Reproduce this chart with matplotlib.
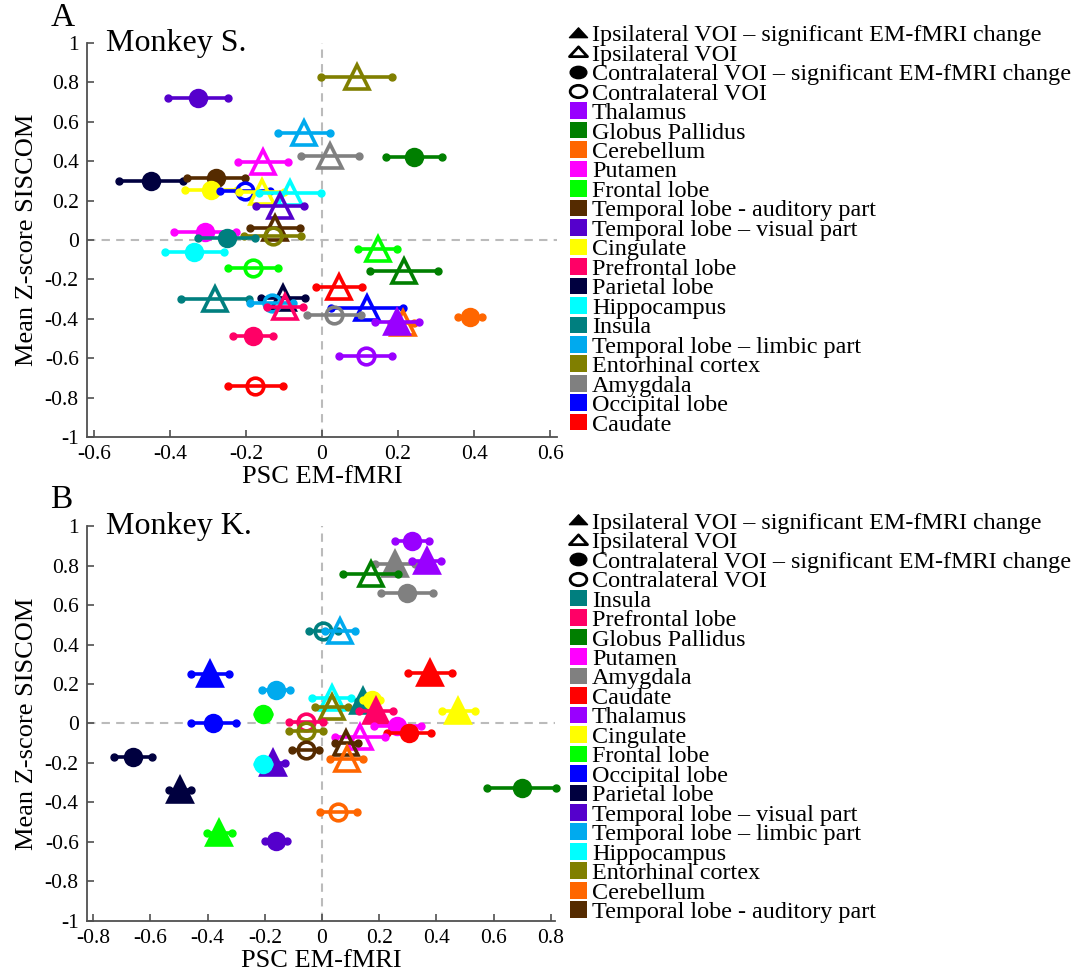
import matplotlib
matplotlib.use('Agg')
import matplotlib.pyplot as plt
import numpy as np
from matplotlib.lines import Line2D
from matplotlib.patches import Patch
from matplotlib.path import Path
from matplotlib.transforms import Affine2D

plt.rcParams['font.family'] = ['Liberation Serif', 'DejaVu Serif']
plt.rcParams['axes.unicode_minus'] = False

# ---- Monkey S. ----
a_region = ['Temporal lobe – visual part', 'Entorhinal cortex', 'Temporal lobe – limbic part', 'Amygdala',
            'Globus Pallidus', 'Putamen', 'Parietal lobe', 'Temporal lobe - auditory part', 'Cingulate',
            'Occipital lobe', 'Cingulate', 'Hippocampus', 'Temporal lobe – visual part',
            'Temporal lobe - auditory part', 'Entorhinal cortex', 'Putamen', 'Insula', 'Hippocampus',
            'Frontal lobe', 'Frontal lobe', 'Globus Pallidus', 'Caudate', 'Insula', 'Parietal lobe',
            'Temporal lobe – limbic part', 'Prefrontal lobe', 'Occipital lobe', 'Amygdala', 'Cerebellum',
            'Thalamus', 'Cerebellum', 'Prefrontal lobe', 'Thalamus', 'Caudate']
a_x = [-0.326, 0.091, -0.047, 0.021, 0.242, -0.156, -0.450, -0.279, -0.292, -0.203, -0.159, -0.084,
       -0.110, -0.124, -0.130, -0.308, -0.251, -0.336, -0.182, 0.146, 0.216, 0.045, -0.282, -0.103,
       -0.132, -0.097, 0.119, 0.032, 0.212, 0.197, 0.389, -0.181, 0.115, -0.175]
a_y = [0.719, 0.829, 0.542, 0.426, 0.420, 0.397, 0.300, 0.316, 0.254, 0.250, 0.245, 0.237,
       0.174, 0.062, 0.022, 0.042, 0.009, -0.059, -0.144, -0.046, -0.156, -0.237, -0.301, -0.296,
       -0.318, -0.338, -0.344, -0.380, -0.420, -0.415, -0.392, -0.487, -0.587, -0.739]
a_err = [0.080, 0.094, 0.069, 0.077, 0.074, 0.066, 0.085, 0.076, 0.068, 0.066, 0.060, 0.082,
         0.063, 0.066, 0.074, 0.081, 0.075, 0.078, 0.066, 0.052, 0.090, 0.060, 0.090, 0.057,
         0.057, 0.047, 0.095, 0.071, 0.030, 0.057, 0.032, 0.053, 0.070, 0.073]
a_side = ['contra', 'ipsi', 'ipsi', 'ipsi', 'contra', 'ipsi', 'contra', 'contra', 'contra', 'contra',
          'ipsi', 'ipsi', 'ipsi', 'ipsi', 'contra', 'contra', 'contra', 'contra', 'contra', 'ipsi',
          'ipsi', 'ipsi', 'ipsi', 'ipsi', 'contra', 'ipsi', 'ipsi', 'contra', 'ipsi', 'ipsi',
          'contra', 'contra', 'contra', 'contra']
a_sig = [1, 0, 0, 0, 1, 0, 1, 1, 1, 0, 0, 0, 0, 0, 0, 1, 1, 1, 0, 0,
         0, 0, 0, 0, 0, 0, 0, 0, 0, 1, 1, 1, 0, 0]
a_legend = ['Thalamus', 'Globus Pallidus', 'Cerebellum', 'Putamen', 'Frontal lobe',
            'Temporal lobe - auditory part', 'Temporal lobe – visual part', 'Cingulate', 'Prefrontal lobe',
            'Parietal lobe', 'Hippocampus', 'Insula', 'Temporal lobe – limbic part', 'Entorhinal cortex',
            'Amygdala', 'Occipital lobe', 'Caudate']

# ---- Monkey K. ----
b_region = ['Thalamus', 'Amygdala', 'Thalamus', 'Globus Pallidus', 'Amygdala', 'Insula',
            'Temporal lobe – limbic part', 'Occipital lobe', 'Caudate', 'Temporal lobe – limbic part',
            'Hippocampus', 'Entorhinal cortex', 'Insula', 'Cingulate', 'Prefrontal lobe', 'Cingulate',
            'Frontal lobe', 'Occipital lobe', 'Prefrontal lobe', 'Entorhinal cortex',
            'Temporal lobe - auditory part', 'Putamen', 'Caudate', 'Putamen', 'Temporal lobe - auditory part',
            'Cerebellum', 'Temporal lobe – visual part', 'Hippocampus', 'Parietal lobe', 'Parietal lobe',
            'Frontal lobe', 'Temporal lobe – visual part', 'Cerebellum', 'Globus Pallidus']
b_x = [0.314, 0.255, 0.366, 0.170, 0.298, 0.005, 0.063, -0.392, 0.378, -0.161, 0.034, 0.034,
       0.145, 0.174, 0.189, 0.477, -0.207, -0.380, -0.057, -0.057, -0.057, 0.263, 0.305, 0.133,
       0.085, 0.086, -0.170, -0.207, -0.660, -0.497, -0.359, -0.161, 0.057, 0.698]
b_y = [0.925, 0.810, 0.824, 0.756, 0.661, 0.469, 0.469, 0.252, 0.257, 0.171, 0.128, 0.083,
       0.113, 0.117, 0.062, 0.061, 0.046, 0.000, 0.007, -0.039, -0.134, -0.015, -0.049, -0.070,
       -0.100, -0.179, -0.200, -0.205, -0.171, -0.337, -0.552, -0.597, -0.447, -0.327]
b_err = [0.060, 0.070, 0.050, 0.096, 0.092, 0.050, 0.054, 0.067, 0.077, 0.048, 0.068, 0.057,
         0.020, 0.030, 0.061, 0.058, 0.020, 0.078, 0.060, 0.060, 0.047, 0.082, 0.077, 0.088,
         0.040, 0.057, 0.040, 0.020, 0.067, 0.038, 0.044, 0.039, 0.064, 0.122]
b_side = ['contra', 'ipsi', 'ipsi', 'ipsi', 'contra', 'contra', 'ipsi', 'ipsi', 'ipsi', 'contra',
          'ipsi', 'ipsi', 'ipsi', 'contra', 'ipsi', 'ipsi', 'contra', 'contra', 'contra', 'contra',
          'contra', 'contra', 'contra', 'ipsi', 'ipsi', 'ipsi', 'ipsi', 'contra', 'contra', 'ipsi',
          'ipsi', 'contra', 'contra', 'contra']
b_sig = [1, 1, 1, 0, 1, 0, 0, 1, 1, 1, 0, 0, 1, 1, 1, 1, 1, 1, 0, 0,
         0, 1, 1, 0, 0, 0, 1, 1, 1, 1, 1, 1, 0, 1]
b_legend = ['Insula', 'Prefrontal lobe', 'Globus Pallidus', 'Putamen', 'Amygdala', 'Caudate', 'Thalamus',
            'Cingulate', 'Frontal lobe', 'Occipital lobe', 'Parietal lobe', 'Temporal lobe – visual part',
            'Temporal lobe – limbic part', 'Hippocampus', 'Entorhinal cortex', 'Cerebellum',
            'Temporal lobe - auditory part']

colors = {
    'Thalamus': '#9900ff', 'Globus Pallidus': '#007f00', 'Cerebellum': '#ff6600', 'Putamen': '#ff00ff',
    'Frontal lobe': '#00ff00', 'Temporal lobe - auditory part': '#552b00',
    'Temporal lobe – visual part': '#5500cc', 'Cingulate': '#ffff00', 'Prefrontal lobe': '#ff0066',
    'Parietal lobe': '#00003f', 'Hippocampus': '#00ffff', 'Insula': '#007f7f',
    'Temporal lobe – limbic part': '#00aaee', 'Entorhinal cortex': '#807f00', 'Amygdala': '#808080',
    'Occipital lobe': '#0000ff', 'Caudate': '#ff0000',
}

ellipse = Path.unit_circle().transformed(Affine2D().scale(1.35, 1.0))
flat_tri = Path([(-1.2, -0.55), (1.2, -0.55), (0, 0.75), (-1.2, -0.55)],
                [Path.MOVETO, Path.LINETO, Path.LINETO, Path.CLOSEPOLY])


def draw_panel(ax, region, x, y, err, side, sig):
    for i, (r, xi, yi, ei, s, g) in enumerate(zip(region, x, y, err, side, sig)):
        c = colors[r]
        z = 2 + i * 0.01
        ax.plot([xi - ei, xi + ei], [yi, yi], '-', color=c, lw=2.6, zorder=z,
                solid_capstyle='butt', clip_on=False)
        ax.plot([xi - ei, xi + ei], [yi, yi], 'o', color=c, ms=5, zorder=z, clip_on=False)
        if s == 'ipsi':
            ax.plot(xi, yi, marker='^', ms=17.5, mfc=c if g else 'none', mec=c, mew=2.6,
                    ls='none', zorder=z, clip_on=False)
        else:
            ax.plot(xi, yi, marker='o', ms=14 if g else 12, mfc=c if g else 'none', mec=c,
                    mew=0 if g else 2.6, ls='none', zorder=z, clip_on=False)


def style_axes(ax, xlim, xticks):
    ax.set_xlim(xlim)
    ax.set_ylim(-1.0, 1.0)
    ax.set_xticks(xticks)
    ax.set_xticklabels(['%g' % (round(t, 1) + 0.0) for t in xticks])
    yt = np.round(np.arange(-1, 1.01, 0.2), 1) + 0.0
    ax.set_yticks(yt)
    ax.set_yticklabels(['%g' % t for t in yt])
    for sp in ['top', 'right']:
        ax.spines[sp].set_visible(False)
    for sp in ['left', 'bottom']:
        ax.spines[sp].set_color('#505050')
        ax.spines[sp].set_linewidth(1.3)
    ax.tick_params(direction='in', length=5, width=1.2, color='#505050', labelsize=15.5, pad=6)
    ax.axhline(0, color='#bbbbbb', ls=(0, (4, 3)), lw=1.5, zorder=1)
    ax.axvline(0, color='#bbbbbb', ls=(0, (4, 3)), lw=1.5, zorder=1)
    ax.set_xlabel('PSC EM-fMRI', fontsize=19, labelpad=1)
    ax.set_ylabel('Mean Z-score SISCOM', fontsize=19, labelpad=5)


def add_legend(ax, order, anchor):
    handles = [
        Line2D([], [], marker=flat_tri, ms=13, color='k', mfc='k', ls='none'),
        Line2D([], [], marker=flat_tri, ms=13, color='k', mfc='none', mew=2, ls='none'),
        Line2D([], [], marker=ellipse, ms=12, color='k', mfc='k', ls='none'),
        Line2D([], [], marker=ellipse, ms=12, color='k', mfc='none', mew=2, ls='none'),
    ] + [Patch(facecolor=colors[r], edgecolor='none') for r in order]
    labels = ['Ipsilateral VOI – significant EM-fMRI change', 'Ipsilateral VOI',
              'Contralateral VOI – significant EM-fMRI change', 'Contralateral VOI'] + order
    ax.legend(handles, labels, loc='upper left', bbox_to_anchor=anchor,
              bbox_transform=ax.figure.transFigure, frameon=False, fontsize=17.4,
              handlelength=0.72, handleheight=0.68, handletextpad=0.2, labelspacing=-0.095,
              borderpad=0, borderaxespad=0)


fig = plt.figure(figsize=(10.71, 9.75), dpi=100)
ax1 = fig.add_axes([0.0812, 0.5518, 0.4389, 0.4041])
ax2 = fig.add_axes([0.0812, 0.0554, 0.4370, 0.4051])

draw_panel(ax1, a_region, a_x, a_y, a_err, a_side, a_sig)
style_axes(ax1, (-0.618, 0.618), np.round(np.arange(-0.6, 0.61, 0.2), 1))
add_legend(ax1, a_legend, (0.532, 0.975))
ax1.text(0.04, 1.035, 'Monkey S.', transform=ax1.transAxes, fontsize=23, va='top', ha='left')

draw_panel(ax2, b_region, b_x, b_y, b_err, b_side, b_sig)
style_axes(ax2, (-0.822, 0.815), np.round(np.arange(-0.8, 0.81, 0.2), 1))
add_legend(ax2, b_legend, (0.532, 0.475))
ax2.text(0.04, 1.035, 'Monkey K.', transform=ax2.transAxes, fontsize=23, va='top', ha='left')

fig.text(0.047, 0.997, 'A', fontsize=24, va='top', ha='left')
fig.text(0.047, 0.503, 'B', fontsize=24, va='top', ha='left')

fig.savefig('out.png', dpi=100)
